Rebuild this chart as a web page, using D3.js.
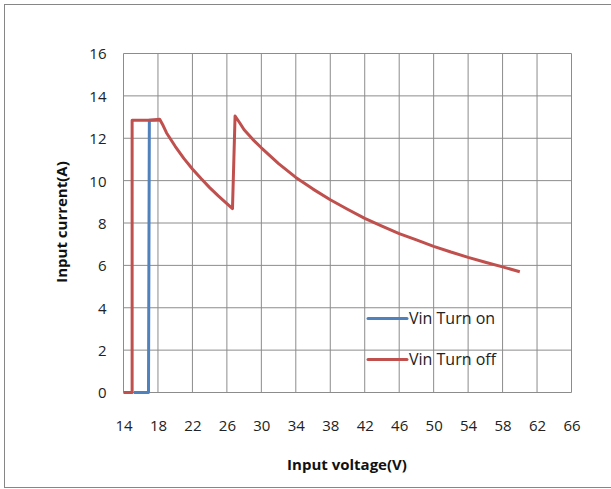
<!DOCTYPE html>
<html><head><meta charset="utf-8">
<script src="https://cdn.jsdelivr.net/npm/d3@7"></script>
<style>body{margin:0;background:#fff;} text{font-family:"Open Sans",sans-serif;}</style>
</head><body><svg id="c" width="611" height="489"></svg>
<script>
const xTicks = [14,18,22,26,30,34,38,42,46,50,54,58,62,66];
const yTicks = [0,2,4,6,8,10,12,14,16];
const offV = [14,15.0,15.0,16,17,18.2,18.6,19,20,21,22,23,24,25,26,26.65,26.95,27.5,28,29,30,32,34,36,38,40,42,44,46,48,50,52,54,56,58,60];
const offI = [0,0,12.85,12.85,12.85,12.9,12.6,12.25,11.62,11.05,10.55,10.1,9.67,9.28,8.92,8.68,13.05,12.72,12.4,11.95,11.55,10.8,10.15,9.6,9.1,8.65,8.22,7.85,7.5,7.2,6.9,6.63,6.38,6.15,5.93,5.7];
const onV = [15.2,16.9,17.0,18.2];
const onI = [0,0,12.85,12.85];
const seriesNames = ["Vin Turn on","Vin Turn off"];
const colors = ["#4F81BD","#C0504D"];

const svg = d3.select("#c");
svg.append("rect").attr("x",4.5).attr("y",4.5).attr("width",640).attr("height",483)
  .attr("fill","#fff").attr("stroke","#868686").attr("stroke-width",1);

const x = d3.scaleLinear().domain([14,66]).range([123.5,571.5]);
const y = d3.scaleLinear().domain([0,16]).range([392.5,53.5]);

const grid = svg.append("g");
grid.selectAll("line.v").data(xTicks).join("line")
  .attr("x1",d=>x(d)).attr("x2",d=>x(d)).attr("y1",y(0)).attr("y2",y(16))
  .attr("stroke","#8c8c8c").attr("stroke-width",1);
grid.selectAll("line.h").data(yTicks).join("line")
  .attr("x1",x(14)).attr("x2",x(66)).attr("y1",d=>y(d)).attr("y2",d=>y(d))
  .attr("stroke","#8c8c8c").attr("stroke-width",1);

const xAxis = d3.axisBottom(x).tickValues(xTicks).tickSize(0).tickPadding(0);
const gx = svg.append("g").attr("transform",`translate(0,${y(0)})`).call(xAxis);
gx.select(".domain").remove();
gx.selectAll("text").attr("font-size",15).attr("fill","#222").attr("dy",0).attr("y",38);

const yAxis = d3.axisLeft(y).tickValues(yTicks).tickSize(0).tickPadding(0);
const gy = svg.append("g").attr("transform",`translate(${x(14)},0)`).call(yAxis);
gy.select(".domain").remove();
gy.selectAll("text").attr("font-size",15).attr("fill","#222").attr("x",-17).attr("dy","0.36em");

svg.append("text").attr("x",347).attr("y",470).attr("text-anchor","middle")
  .attr("font-size",15).attr("font-weight","bold").attr("fill","#111").text("Input voltage(V)");
svg.append("text").attr("transform","translate(67,222) rotate(-90)").attr("text-anchor","middle")
  .attr("font-size",15).attr("font-weight","bold").attr("fill","#111").text("Input current(A)");

const line = d3.line().x(d=>x(d[0])).y(d=>y(d[1]));
const onData = onV.map((v,i)=>[v,onI[i]]);
const offData = offV.map((v,i)=>[v,offI[i]]);
svg.append("path").datum(onData).attr("d",line).attr("fill","none")
  .attr("stroke",colors[0]).attr("stroke-width",3).attr("stroke-linejoin","round");
svg.append("path").datum(offData).attr("d",line).attr("fill","none")
  .attr("stroke",colors[1]).attr("stroke-width",3).attr("stroke-linejoin","round");

const lg = svg.append("g");
[318.5,359.5].forEach((ly,i)=>{
  lg.append("line").attr("x1",368).attr("x2",407).attr("y1",ly).attr("y2",ly)
    .attr("stroke",colors[i]).attr("stroke-width",3).attr("stroke-linecap","round");
  lg.append("text").attr("x",409).attr("y",ly).attr("dy","0.36em")
    .attr("font-size",16).attr("fill","#222").text(seriesNames[i]);
});
</script></body></html>
